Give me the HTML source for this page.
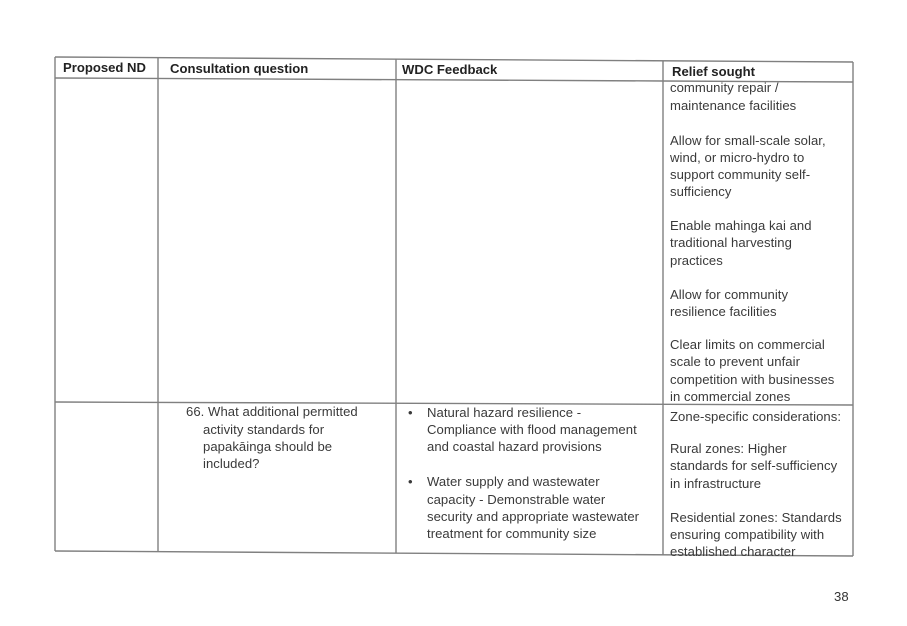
<!DOCTYPE html>
<html><head><meta charset="utf-8"><style>
body{margin:0;width:907px;height:626px;background:#fff;position:relative;overflow:hidden;font-family:"Liberation Sans",sans-serif;}
.t{position:absolute;font-size:13.1px;line-height:16px;color:#3a3a3a;white-space:nowrap;letter-spacing:0.05px}
.b{font-weight:bold;color:#222;letter-spacing:0}
svg{position:absolute;left:0;top:0}
</style></head><body>
<svg width="907" height="626">
<g stroke="#808080" stroke-width="1.4" fill="none">
<line x1="55" y1="57" x2="853" y2="62"/>
<line x1="55" y1="78" x2="663" y2="81"/>
<line x1="663" y1="81" x2="853" y2="82"/>
<line x1="55" y1="402" x2="853" y2="405"/>
<line x1="55" y1="551" x2="853" y2="556"/>
<line x1="55" y1="57" x2="55" y2="551"/>
<line x1="158" y1="58" x2="158" y2="552"/>
<line x1="396" y1="59" x2="396" y2="553"/>
<line x1="663" y1="61" x2="663" y2="555"/>
<line x1="853" y1="62" x2="853" y2="556"/>
</g>
</svg>
<div class="t b" style="left:63px;top:60px">Proposed ND</div>
<div class="t b" style="left:170px;top:61px">Consultation question</div>
<div class="t b" style="left:402px;top:62px">WDC Feedback</div>
<div class="t b" style="left:672px;top:64px">Relief sought</div>

<div class="t" style="left:670px;top:80px">community repair /</div>
<div class="t" style="left:670px;top:98px">maintenance facilities</div>
<div class="t" style="left:670px;top:133px">Allow for small-scale solar,</div>
<div class="t" style="left:670px;top:150px">wind, or micro-hydro to</div>
<div class="t" style="left:670px;top:167px">support community self-</div>
<div class="t" style="left:670px;top:184px">sufficiency</div>
<div class="t" style="left:670px;top:218px">Enable mahinga kai and</div>
<div class="t" style="left:670px;top:235px">traditional harvesting</div>
<div class="t" style="left:670px;top:253px">practices</div>
<div class="t" style="left:670px;top:287px">Allow for community</div>
<div class="t" style="left:670px;top:304px">resilience facilities</div>
<div class="t" style="left:670px;top:337px">Clear limits on commercial</div>
<div class="t" style="left:670px;top:354px">scale to prevent unfair</div>
<div class="t" style="left:670px;top:372px">competition with businesses</div>
<div class="t" style="left:670px;top:389px">in commercial zones</div>

<div class="t" style="left:186px;top:404px">66. What additional permitted</div>
<div class="t" style="left:203px;top:422px">activity standards for</div>
<div class="t" style="left:203px;top:439px">papakāinga should be</div>
<div class="t" style="left:203px;top:456px">included?</div>

<div class="t" style="left:408px;top:405px">•</div>
<div class="t" style="left:427px;top:405px">Natural hazard resilience -</div>
<div class="t" style="left:427px;top:422px">Compliance with flood management</div>
<div class="t" style="left:427px;top:439px">and coastal hazard provisions</div>
<div class="t" style="left:408px;top:474px">•</div>
<div class="t" style="left:427px;top:474px">Water supply and wastewater</div>
<div class="t" style="left:427px;top:492px">capacity - Demonstrable water</div>
<div class="t" style="left:427px;top:509px">security and appropriate wastewater</div>
<div class="t" style="left:427px;top:526px">treatment for community size</div>

<div class="t" style="left:670px;top:409px">Zone-specific considerations:</div>
<div class="t" style="left:670px;top:441px">Rural zones: Higher</div>
<div class="t" style="left:670px;top:458px">standards for self-sufficiency</div>
<div class="t" style="left:670px;top:476px">in infrastructure</div>
<div class="t" style="left:670px;top:510px">Residential zones: Standards</div>
<div class="t" style="left:670px;top:527px">ensuring compatibility with</div>
<div class="t" style="left:670px;top:544px">established character</div>

<div class="t" style="left:834px;top:589px;color:#333">38</div>
</body></html>
